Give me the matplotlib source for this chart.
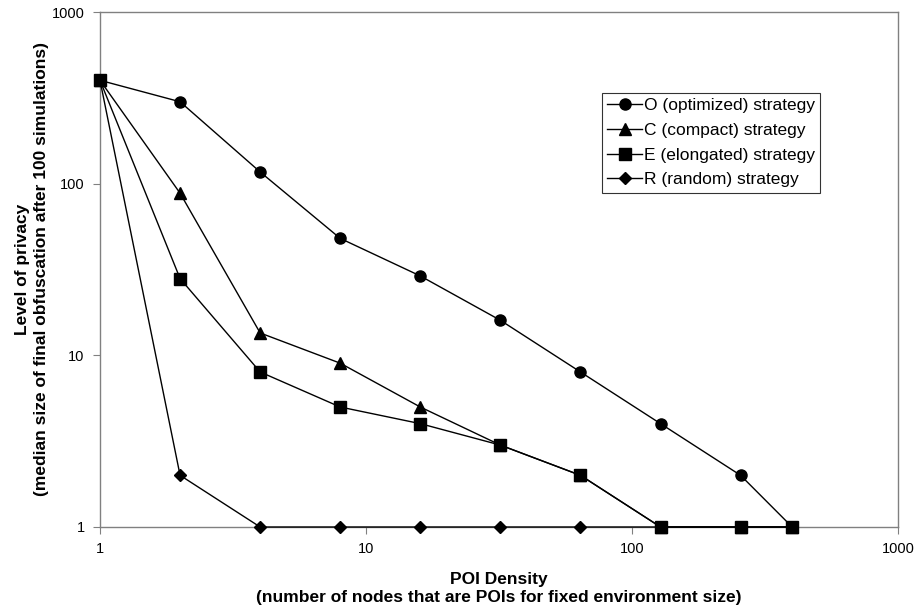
import matplotlib
matplotlib.use("Agg")
import matplotlib.pyplot as plt
from matplotlib.ticker import FixedLocator, FixedFormatter, NullLocator

plt.rcParams['font.family'] = ['Liberation Sans', 'DejaVu Sans']

# POI density values and median obfuscation sizes per strategy
density = [1, 2, 4, 8, 16, 32, 64, 128, 256, 400]
optimized = [400, 300, 117, 48, 29, 16, 8, 4, 2, 1]
compact = [400, 88, 13.5, 9, 5, 3, 2, 1, 1, 1]
elongated = [400, 28, 8, 5, 4, 3, 2, 1, 1, 1]
random_s = [400, 2, 1, 1, 1, 1, 1, 1, 1, 1]

labels = ['O (optimized) strategy', 'C (compact) strategy',
          'E (elongated) strategy', 'R (random) strategy']
x_ticks = [1, 10, 100, 1000]
y_ticks = [1, 10, 100, 1000]

fig = plt.figure(figsize=(9.22, 6.12), dpi=100)
ax = fig.add_axes([100 / 922, 85 / 612, 798 / 922, 515 / 612])

style = dict(color='black', lw=1, clip_on=False, zorder=3)
ax.plot(density, optimized, '-o', ms=8, label=labels[0], **style)
ax.plot(density, compact, '-^', ms=8.5, label=labels[1], **style)
ax.plot(density, elongated, '-s', ms=8, label=labels[2], **style)
ax.plot(density, random_s, '-D', ms=6, label=labels[3], **style)

ax.set_xscale('log')
ax.set_yscale('log')
ax.set_xlim(1, 1000)
ax.set_ylim(1, 1000)

ax.xaxis.set_major_locator(FixedLocator(x_ticks))
ax.xaxis.set_major_formatter(FixedFormatter([str(v) for v in x_ticks]))
ax.yaxis.set_major_locator(FixedLocator(y_ticks))
ax.yaxis.set_major_formatter(FixedFormatter([str(v) for v in y_ticks]))
ax.xaxis.set_minor_locator(NullLocator())
ax.yaxis.set_minor_locator(NullLocator())

for sp in ax.spines.values():
    sp.set_color('#808080')
    sp.set_linewidth(1)
ax.tick_params(axis='both', which='major', direction='out', length=5,
               color='#808080', labelsize=10.5, pad=6)

ax.set_xlabel('POI Density\n(number of nodes that are POIs for fixed environment size)',
              fontsize=12.5, fontweight='bold', labelpad=11, linespacing=1.3)
ax.set_ylabel('Level of privacy\n(median size of final obfuscation after 100 simulations)',
              fontsize=12.5, fontweight='bold', labelpad=2, linespacing=1.3)

leg = ax.legend(loc='upper left', bbox_to_anchor=(0.629, 0.843), fontsize=12.5,
                frameon=True, fancybox=False, handlelength=2.0, handletextpad=0.1,
                borderpad=0.3, labelspacing=0.55, borderaxespad=0)
leg.get_frame().set_edgecolor('black')
leg.get_frame().set_linewidth(0.8)

fig.savefig('out.png', dpi=100)
